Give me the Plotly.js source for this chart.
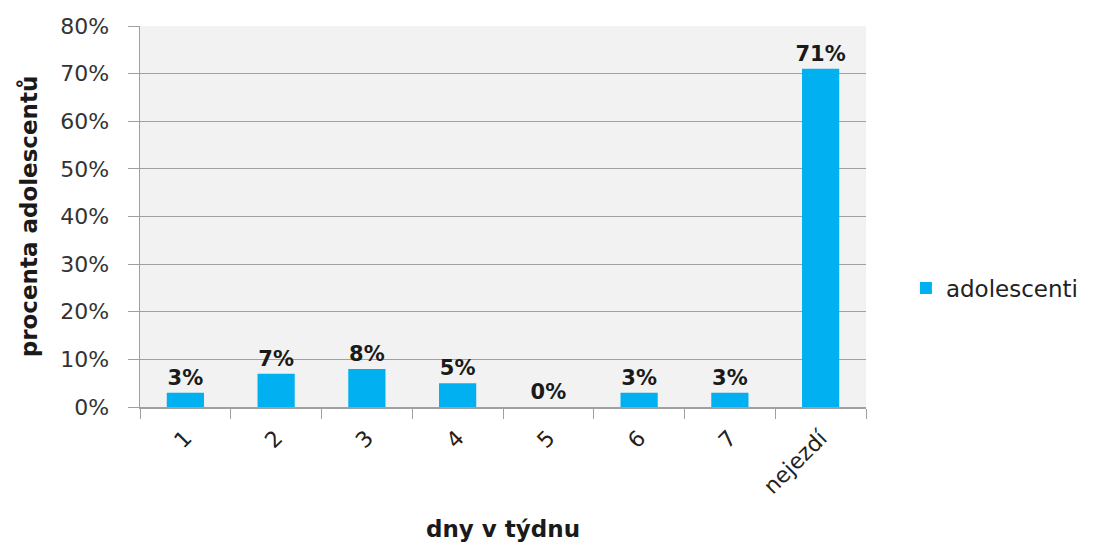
<!DOCTYPE html>
<html>
<head>
<meta charset="utf-8">
<script src="https://cdn.plot.ly/plotly-3.0.1.min.js"></script>
<style>html,body{margin:0;padding:0;background:#fff;}#chart{width:1111px;height:542px;}</style>
</head>
<body>
<div id="chart"></div>
<script>
// Dny v týdnu a podíl adolescentů (v %)
const categories = ['1', '2', '3', '4', '5', '6', '7', 'nejezdí'];
const values = [3, 7, 8, 5, 0, 3, 3, 71];
const seriesName = 'adolescenti';
const yTickVals = [0, 10, 20, 30, 40, 50, 60, 70, 80];
const yTickText = yTickVals.map(v => v + '%');

const trace = {
  type: 'bar',
  x: categories,
  y: values,
  name: seriesName,
  marker: { color: '#00b0f0' },
  text: values.map(v => v + '%'),
  textposition: 'outside',
  constraintext: 'none',
  cliponaxis: false,
  textfont: { family: 'DejaVu Sans', size: 21, color: '#1a1a1a', weight: 'bold' },
  showlegend: true
};

const layout = {
  width: 1111,
  height: 542,
  margin: { l: 140, r: 245, t: 26, b: 135 },
  paper_bgcolor: '#ffffff',
  plot_bgcolor: '#f2f2f2',
  bargap: 0.59,
  font: { family: 'DejaVu Sans', color: '#333333' },
  xaxis: {
    type: 'category',
    tickangle: -45,
    tickson: 'boundaries',
    ticks: 'outside',
    ticklen: 10,
    tickcolor: '#a0a0a0',
    ticklabelstandoff: 8,
    showline: true,
    linecolor: '#a0a0a0',
    linewidth: 1.5,
    showgrid: false,
    automargin: false,
    tickfont: { family: 'DejaVu Sans', size: 22, color: '#222222' },
    title: { text: 'dny v týdnu', font: { family: 'DejaVu Sans', size: 23, color: '#1a1a1a', weight: 'bold' }, standoff: 36 }
  },
  yaxis: {
    range: [0, 80],
    tickmode: 'array',
    tickvals: yTickVals,
    ticktext: yTickText,
    ticks: 'outside',
    ticklen: 11,
    tickcolor: '#a0a0a0',
    ticklabelstandoff: 14,
    showline: true,
    linecolor: '#a0a0a0',
    linewidth: 1.5,
    gridcolor: '#a0a0a0',
    gridwidth: 1,
    zeroline: false,
    automargin: false,
    tickfont: { family: 'DejaVu Sans', size: 22, color: '#333333' },
    title: { text: 'procenta adolescentů', font: { family: 'DejaVu Sans', size: 23, color: '#1a1a1a', weight: 'bold' }, standoff: 16 }
  },
  legend: {
    x: 1.055,
    xanchor: 'left',
    y: 0.312,
    yanchor: 'middle',
    font: { family: 'DejaVu Sans', size: 23, color: '#222222' },
    bgcolor: 'rgba(0,0,0,0)'
  }
};

Plotly.newPlot('chart', [trace], layout, { displayModeBar: false, staticPlot: true });
</script>
</body>
</html>
